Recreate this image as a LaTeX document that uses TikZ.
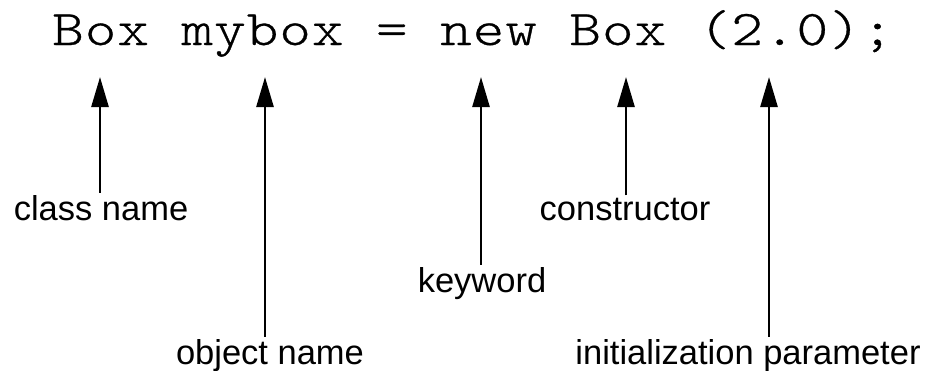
\documentclass[tikz,border=0pt]{standalone}
\usepackage{fontspec}
\setmainfont{Liberation Sans}
\newfontfamily\codefont{lmmonolt10-regular.otf}[FakeStretch=1.2,LetterSpace=2.2,FakeBold=0.6]
\usetikzlibrary{arrows.meta,positioning}

\begin{document}
\begin{tikzpicture}[x=1pt,y=-1pt,>={Triangle[length=30pt,width=17pt]},line width=2.6pt,
  code/.style={font=\fontsize{50}{60}\selectfont\codefont,inner sep=0pt,anchor=base west},
  tag/.style={font=\fontsize{34.5}{40}\selectfont,inner sep=1pt,anchor=base}]
  \useasboundingbox (0,0) rectangle (947,370);
  \node[code] (stmt) at (51,45) {Box mybox = new Box (2.0);};

  \coordinate (cls_tip)  at (100,77);
  \coordinate (obj_tip)  at (265,77);
  \coordinate (kw_tip)   at (481,77);
  \coordinate (ctor_tip) at (626,77);
  \coordinate (init_tip) at (769,77);

  \node[tag] (cls)  at (101,220) {class name};
  \node[tag] (obj)  at (270,364) {object name};
  \node[tag] (kw)   at (482,292) {keyword};
  \node[tag] (ctor) at (625,220) {constructor};
  \node[tag] (init) at (748,364) {initialization parameter};

  \draw[->] (cls.north -| cls_tip) -- (cls_tip);
  \draw[->] (obj.north -| obj_tip) -- (obj_tip);
  \draw[->] (kw.north -| kw_tip) -- (kw_tip);
  \draw[->] (ctor.north -| ctor_tip) -- (ctor_tip);
  \draw[->] (init.north -| init_tip) -- (init_tip);
\end{tikzpicture}
\end{document}
